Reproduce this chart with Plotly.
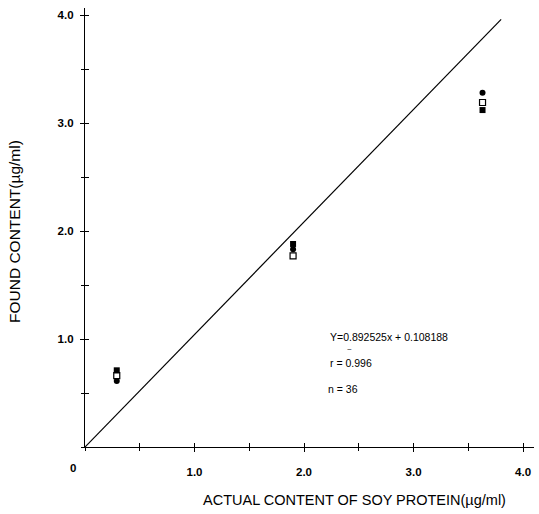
import plotly.graph_objects as go

# Data
actual = [0.29, 1.90, 3.63]
found_circle = [0.61, 1.83, 3.28]      # filled circles
found_open = [0.66, 1.77, 3.19]        # open squares
found_square = [0.71, 1.88, 3.12]      # filled squares
line_x = [0.0, 3.80]
line_y = [0.0, 3.96]
tick_vals = [1, 2, 3, 4]
tick_text = ["<b>1.0</b>", "<b>2.0</b>", "<b>3.0</b>", "<b>4.0</b>"]

FONT = "Liberation Sans, Arial, sans-serif"
W, H = 539, 514
ML, MR, MT, MB = 85, 5, 8, 67
PW, PH = W - ML - MR, H - MT - MB

fig = go.Figure()
fig.add_trace(go.Scatter(x=line_x, y=line_y, mode="lines",
                         line=dict(color="black", width=1.2), showlegend=False))
fig.add_trace(go.Scatter(x=actual, y=found_circle, mode="markers",
                         marker=dict(symbol="circle", size=6, color="black"), showlegend=False))
fig.add_trace(go.Scatter(x=actual, y=found_open, mode="markers",
                         marker=dict(symbol="square-open", size=6, color="black", line=dict(width=1.2)),
                         showlegend=False))
fig.add_trace(go.Scatter(x=actual, y=found_square, mode="markers",
                         marker=dict(symbol="square", size=6, color="black"), showlegend=False))
# invisible trace on overlay axes so inside ticks are drawn
fig.add_trace(go.Scatter(x=[0.01], y=[0.01], xaxis="x2", yaxis="y2", mode="markers",
                         marker=dict(opacity=0), showlegend=False, hoverinfo="skip"))

XR = [0, 4.1]
YR = [0, 4.065]
common = dict(showgrid=False, zeroline=False, showline=True, linecolor="black", linewidth=1.3,
              tickcolor="black", ticklen=4, tickwidth=1.2,
              tickvals=tick_vals, ticktext=tick_text,
              tickfont=dict(family=FONT, size=11.5, color="black"))
minor_out = dict(dtick=0.5, ticks="outside", ticklen=3, tickcolor="black", tickwidth=1.2)
overlay = dict(ticks="inside", showgrid=False, zeroline=False, showline=False,
               tickmode="array", tickvals=[0.5, 1, 1.5, 2, 2.5, 3, 3.5, 4],
               showticklabels=False, tickcolor="black", ticklen=4, tickwidth=1.2)

fig.update_layout(
    width=W, height=H,
    margin=dict(l=ML, r=MR, t=MT, b=MB),
    paper_bgcolor="white", plot_bgcolor="white",
    xaxis=dict(range=XR, ticks="outside", minor=minor_out, ticklabelstandoff=10, **common),
    yaxis=dict(range=YR, ticks="outside", minor=minor_out, ticklabelstandoff=4, **common),
    xaxis2=dict(range=XR, overlaying="x", anchor="y2", side="bottom", **overlay),
    yaxis2=dict(range=YR, overlaying="y", anchor="x2", side="left", **overlay),
)


def add_text(txt, px, py, size, anchor="left", angle=0):
    fig.add_annotation(text=txt, x=(px - ML) / PW, y=(H - MB - py) / PH,
                       xref="paper", yref="paper",
                       xanchor=anchor, yanchor="middle", showarrow=False, textangle=angle,
                       font=dict(family=FONT, size=size, color="black"))


add_text("<b>0</b>", 73, 468, 11.5, anchor="center")
add_text("ACTUAL CONTENT OF SOY PROTEIN(\u00b5g/ml)", 354, 500, 14.5, anchor="center")
add_text("FOUND CONTENT(\u00b5g/ml)", 15, 232, 15.5, anchor="center", angle=-90)
add_text("Y=0.892525x + 0.108188", 328, 337, 10.5)
add_text("~", 345, 349, 8)
add_text("r = 0.996", 328, 363, 10.5)
add_text("n = 36", 326, 389, 10.5)

fig.write_html("out.html")
